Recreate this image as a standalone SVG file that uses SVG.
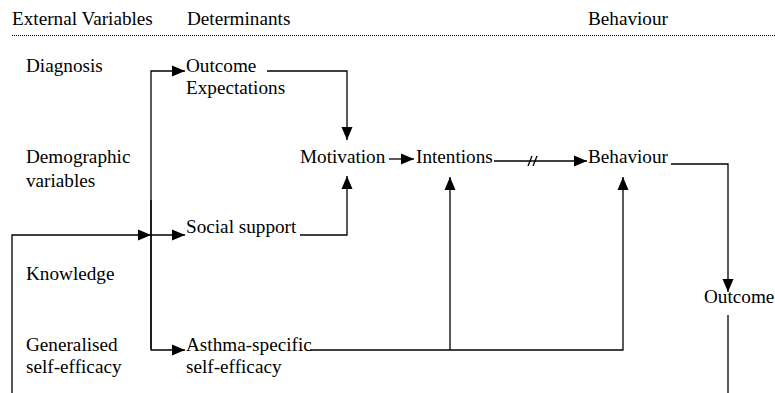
<svg xmlns="http://www.w3.org/2000/svg" width="775" height="393" viewBox="0 0 775 393">
<defs>
<marker id="arr" markerUnits="userSpaceOnUse" markerWidth="14" markerHeight="12" refX="13" refY="6" orient="auto">
<path d="M0,0.5 L13,6 L0,11.5 Z" fill="#000"/>
</marker>
</defs>
<style>
.c{fill:none;stroke:#000;stroke-width:1.3}
.a{marker-end:url(#arr)}
.t{font-family:"Liberation Serif","Times New Roman",serif;font-size:19.2px;fill:#000}
</style>
<rect width="775" height="393" fill="#fff"/>
<g class="t">
<g id="header">
<text x="12" y="25">External Variables</text>
<text x="187" y="25">Determinants</text>
<text x="588" y="25">Behaviour</text>
<line x1="12" y1="35.5" x2="775" y2="35.5" stroke="#000" stroke-width="1" stroke-dasharray="1,1"/>
</g>
<g id="diagnosis"><text x="26" y="72">Diagnosis</text></g>
<g id="demographic"><text x="26" y="163">Demographic</text><text x="26" y="187">variables</text></g>
<g id="knowledge"><text x="26" y="280">Knowledge</text></g>
<g id="generalised"><text x="26" y="351">Generalised</text><text x="26" y="373">self-efficacy</text></g>
<g id="outcome-expectations"><text x="186" y="72">Outcome</text><text x="186" y="94">Expectations</text></g>
<g id="social-support"><text x="186" y="233">Social support</text></g>
<g id="asthma-se"><text x="186" y="351">Asthma-specific</text><text x="186" y="373">self-efficacy</text></g>
<g id="motivation"><text x="300" y="163">Motivation</text></g>
<g id="intentions"><text x="416" y="163">Intentions</text></g>
<g id="behaviour"><text x="588" y="163">Behaviour</text></g>
<g id="outcome"><text x="704" y="303">Outcome</text></g>
</g>
<g id="connectors">
<polyline class="c a" points="151,349 151,71 185,71"/>
<polyline class="c a" points="151,200 151,350 185,350"/>
<polyline class="c a" points="12,393 12,235 151,235"/>
<line class="c a" x1="151" y1="235" x2="185" y2="235"/>
<polyline class="c a" points="267,71 347,71 347,140"/>
<polyline class="c a" points="300,235 347,235 347,176"/>
<line class="c a" x1="389" y1="159" x2="414" y2="159"/>
<line class="c a" x1="494" y1="161" x2="587" y2="161"/>
<line class="c" x1="528" y1="166" x2="532" y2="156"/>
<line class="c" x1="533" y1="166" x2="537" y2="156"/>
<polyline class="c a" points="310,350 623,350 623,177"/>
<line class="c a" x1="450" y1="350" x2="450" y2="177"/>
<polyline class="c a" points="671,164 728,164 728,292"/>
<line class="c" x1="728" y1="315" x2="728" y2="393"/>
</g>
</svg>
